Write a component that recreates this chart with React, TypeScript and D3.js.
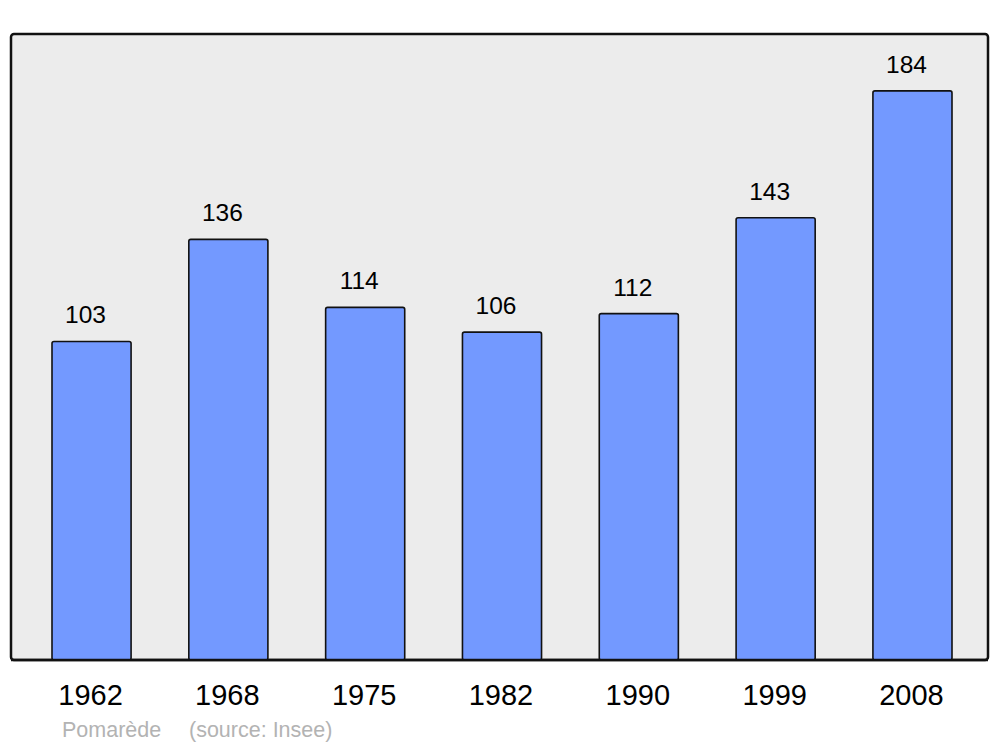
import React from 'react';
import * as d3 from 'd3';

// population data
const years = ['1962', '1968', '1975', '1982', '1990', '1999', '2008'];
const population = [103, 136, 114, 106, 112, 143, 184];
const credit = 'Pomarède';
const source = '(source: Insee)';

const W = 1000, H = 747;
const plot = {left: 11, top: 34, right: 988, bottom: 660};

export default function App() {
  const x = d3.scaleBand<string>()
    .domain(years)
    .range([52, 952])
    .paddingInner(0.422)
    .paddingOuter(0);

  const y = d3.scaleLinear()
    .domain([0, d3.max(population)! * 1.1])
    .range([plot.bottom, plot.top]);

  const font = '"Liberation Sans", Arial, sans-serif';

  return (
    <svg width={W} height={H} viewBox={`0 0 ${W} ${H}`}
      style={{position: 'absolute', left: 0, top: 0, background: '#fff'}}>
      <rect x={plot.left} y={plot.top} width={plot.right - plot.left} height={plot.bottom - plot.top}
        rx={3} fill="#ececec" stroke="#111" strokeWidth={2.5} />

      {population.map((v, i) => {
        const bx = x(years[i])!;
        const cx = bx + x.bandwidth() / 2;
        return (
          <g key={years[i]}>
            <rect x={bx} y={y(v)} width={x.bandwidth()} height={plot.bottom - y(v)}
              rx={2} fill="#7399ff" stroke="#111" strokeWidth={1.6} />
            <text x={cx - 6} y={y(v) - 18} textAnchor="middle" fontFamily={font}
              fontSize={24.5} fill="#000">{v}</text>
            <text x={cx - 1} y={705} textAnchor="middle" fontFamily={font}
              fontSize={29} fill="#000">{years[i]}</text>
          </g>
        );
      })}

      {/* redraw baseline over bars */}
      <line x1={plot.left} x2={plot.right} y1={plot.bottom} y2={plot.bottom} stroke="#111" strokeWidth={2.5} />

      <text x={62} y={737} fontFamily={font} fontSize={21.5} fill="#b3b3b3">{credit}</text>
      <text x={189} y={737} fontFamily={font} fontSize={21.5} fill="#b3b3b3">{source}</text>
    </svg>
  );
}
